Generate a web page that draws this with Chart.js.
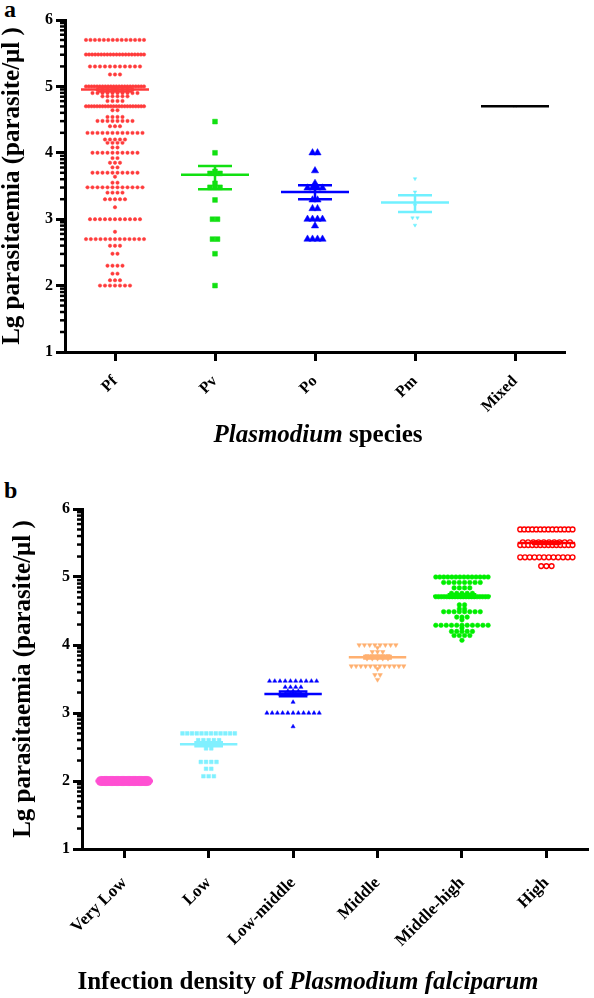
<!DOCTYPE html>
<html>
<head>
<meta charset="utf-8">
<script src="https://cdn.jsdelivr.net/npm/chart.js@4.4.0/dist/chart.umd.min.js"></script>
<style>
  body { margin: 0; background: #fff; width: 594px; height: 998px; position: relative; overflow: hidden;
         font-family: "Liberation Serif", "Times New Roman", serif; }
  canvas { position: absolute; left: 0; }
  #chartA { top: 0; }
  #chartB { top: 460px; }
  .panel { position: absolute; left: 4px; font-weight: bold; font-size: 24px; line-height: 1; }
  .xtitle { position: absolute; font-weight: bold; font-size: 25px; line-height: 1; white-space: nowrap; transform: translateX(-50%); }
</style>
</head>
<body>
<div class="panel" style="top:-3px">a</div>
<div class="panel" style="top:478px">b</div>
<canvas id="chartA" width="594" height="460"></canvas>
<canvas id="chartB" width="594" height="538"></canvas>
<div class="xtitle" style="left:318px; top:421px"><i>Plasmodium</i> species</div>
<div class="xtitle" style="left:308px; top:968px">Infection density of <i>Plasmodium falciparum</i></div>

<script>
/* ============================================
   DATA
============================================ */

// panel a: species
const speciesLabels = ["Pf", "Pv", "Po", "Pm", "Mixed"];

const pfValues = [5.70, 5.48, 5.30, 5.18, 5.00, 4.95, 4.90, 4.85, 4.78, 4.70, 4.64, 4.54, 4.48, 4.40,
                  4.30, 4.20, 4.15, 4.08, 4.00, 3.92, 3.85, 3.78, 3.70, 3.64, 3.55, 3.48, 3.40, 3.30,
                  3.18, 3.00, 2.81, 2.70, 2.60, 2.48, 2.30, 2.18, 2.08, 2.00];
const pfCounts = [14, 20, 11, 3, 22, 8, 10, 6, 4, 22, 2, 4, 8, 3,
                  12, 5, 4, 2, 10, 2, 3, 2, 10, 1, 2, 12, 4, 5,
                  1, 11, 1, 13, 3, 2, 4, 2, 3, 7];

const pvValues = [4.47, 4.00, 3.72, 3.69, 3.54, 3.48, 3.29, 3.00, 2.70, 2.48, 2.00];
const pvCounts = [1, 1, 1, 3, 1, 3, 1, 2, 2, 1, 1];

const poValues = [4.00, 3.73, 3.54, 3.47, 3.29, 3.16, 3.00, 2.90, 2.70];
const poCounts = [2, 1, 1, 4, 2, 2, 4, 1, 4];

const pmValues = [3.61, 3.41, 3.21, 3.02, 2.91];
const pmCounts = [1, 1, 1, 2, 1];

const mixedValues = [4.70];
const mixedCounts = [1];

const speciesMean    = [4.955, 3.67, 3.41, 3.25, 4.70];
const speciesErrHigh = [4.985, 3.80, 3.51, 3.36, 4.70];
const speciesErrLow  = [4.925, 3.45, 3.30, 3.11, 4.70];

// panel b: infection density of P. falciparum
const densityLabels = ["Very Low", "Low", "Low-middle", "Middle", "Middle-high", "High"];

const veryLowValues = [2.00];
const veryLowCounts = [40];

const lowValues = [2.70, 2.60, 2.54, 2.48, 2.28, 2.18, 2.07];
const lowCounts = [12, 5, 4, 2, 4, 2, 3];

const lowMidValues = [3.47, 3.38, 3.32, 3.28, 3.16, 3.00, 2.80];
const lowMidCounts = [10, 4, 3, 6, 1, 11, 1];

const midValues = [4.00, 3.96, 3.90, 3.84, 3.80, 3.69, 3.65, 3.56, 3.49];
const midCounts = [8, 1, 3, 5, 5, 12, 1, 2, 1];

const midHighValues = [5.00, 4.92, 4.84, 4.76, 4.71, 4.59, 4.53, 4.49, 4.41, 4.37, 4.29, 4.25, 4.20, 4.14, 4.07];
const midHighCounts = [14, 8, 4, 5, 20, 2, 2, 8, 3, 1, 11, 1, 5, 4, 1];

const highValues = [5.70, 5.51, 5.47, 5.29, 5.16];
const highCounts = [14, 10, 14, 12, 3];

const densityMean    = [2.00, 2.54, 3.28, 3.82, 4.72, 5.50];
const densityErrHigh = [2.00, 2.57, 3.315, 3.84, 4.745, 5.515];
const densityErrLow  = [2.00, 2.51, 3.245, 3.80, 4.695, 5.485];

/* ============================================
   HELPERS
============================================ */

const serif = '"Liberation Serif", "Times New Roman", serif';

// lay the dots of each row side by side, centred on the category
function swarm(values, counts, cat, step, half) {
    const pts = [];
    values.forEach((v, r) => {
        const n = counts[r];
        let s = step;
        if (n > 1 && (n - 1) * s > 2 * half) s = 2 * half / (n - 1);
        for (let i = 0; i < n; i++) {
            pts.push({ x: cat + (i - (n - 1) / 2) * s, y: v });
        }
    });
    return pts;
}

// mean line + error bar for one group
function summaryLines(cat, mean, hi, lo, color, lineHalf, capHalf, width) {
    const sets = [{
        data: [{ x: cat - lineHalf, y: mean }, { x: cat + lineHalf, y: mean }],
        showLine: true, borderColor: color, borderWidth: width, pointRadius: 0, order: 0
    }];
    if (hi !== lo) {
        sets.push({
            data: [
                { x: cat - capHalf, y: hi }, { x: cat + capHalf, y: hi }, { x: cat, y: null },
                { x: cat - capHalf, y: lo }, { x: cat + capHalf, y: lo }, { x: cat, y: null },
                { x: cat, y: hi }, { x: cat, y: lo }
            ],
            showLine: true, spanGaps: false, borderColor: color, borderWidth: width, pointRadius: 0, order: 0
        });
    }
    return sets;
}

// log-style minor ticks on the y axis
const minorTicks = {
    id: "minorTicks",
    afterDraw(chart) {
        const y = chart.scales.y;
        const ctx = chart.ctx;
        const x0 = chart.chartArea.left;
        ctx.save();
        ctx.strokeStyle = "#000";
        ctx.lineWidth = 2.5;
        for (let n = y.min; n < y.max; n++) {
            for (let k = 2; k <= 9; k++) {
                const p = y.getPixelForValue(n + Math.log10(k));
                ctx.beginPath();
                ctx.moveTo(x0 - 5, p);
                ctx.lineTo(x0, p);
                ctx.stroke();
            }
        }
        ctx.restore();
    }
};

function axes(labels, yWidth, xHeight, tickSize, titlePad, labelPad) {
    return {
        x: {
            type: "linear", min: -0.5, max: labels.length - 0.5,
            afterBuildTicks: s => { s.ticks = labels.map((l, i) => ({ value: i })); },
            afterFit: s => { s.height = xHeight; },
            border: { display: true, width: 3, color: "#000" },
            grid: { drawOnChartArea: false, drawTicks: true, tickLength: 9, tickWidth: 3, tickColor: "#000" },
            ticks: {
                autoSkip: false, minRotation: 45, maxRotation: 45, padding: labelPad, color: "#000",
                font: { family: serif, size: tickSize, weight: "bold" },
                callback: v => labels[v]
            }
        },
        y: {
            min: 1, max: 6,
            afterFit: s => { s.width = yWidth; },
            border: { display: true, width: 3, color: "#000" },
            grid: { drawOnChartArea: false, drawTicks: true, tickLength: 9, tickWidth: 3, tickColor: "#000" },
            ticks: { stepSize: 1, padding: 3, color: "#000", font: { family: serif, size: 16, weight: "bold" } },
            title: {
                display: true, text: "Lg parasitaemia (parasite/\u03bcl )", color: "#000",
                font: { family: serif, size: 25, weight: "bold", lineHeight: 1 },
                padding: { top: titlePad, bottom: 0 }
            }
        }
    };
}

function baseOptions(scales, padding) {
    return {
        responsive: false,
        animation: false,
        devicePixelRatio: 1,
        layout: { padding: padding },
        plugins: { legend: { display: false }, tooltip: { enabled: false } },
        scales: scales
    };
}

/* ============================================
   PANEL A
============================================ */

const speciesData = [
    { values: pfValues, counts: pfCounts, color: "#ff3b3b", style: "circle", r: 1.7, half: 0.29 },
    { values: pvValues, counts: pvCounts, color: "#11e011", style: "rect", r: 3.4, half: 0.29 },
    { values: poValues, counts: poCounts, color: "#0000ff", style: "triangle", r: 4.2, half: 0.29 },
    { values: pmValues, counts: pmCounts, color: "#70f0ff", style: "triangle", r: 2, rot: 180, half: 0.29 },
    { values: mixedValues, counts: mixedCounts, color: "#000000", style: "crossRot", r: 1.5, half: 0.29 }
];

const datasetsA = [];
speciesData.forEach((g, i) => {
    datasetsA.push({
        data: swarm(g.values, g.counts, i, 0.05, g.half),
        pointStyle: g.style, pointRadius: g.r, pointRotation: g.rot || 0,
        pointBackgroundColor: g.color, pointBorderColor: g.color, pointBorderWidth: 0.5,
        showLine: false, order: 1
    });
    datasetsA.push(...summaryLines(i, speciesMean[i], speciesErrHigh[i], speciesErrLow[i],
        g.color, 0.34, 0.17, 2.5));
});

new Chart(document.getElementById("chartA"), {
    type: "scatter",
    data: { datasets: datasetsA },
    options: baseOptions(axes(speciesLabels, 65, 108, 16, 0, 11), { top: 20, right: 29, left: 0, bottom: 0 }),
    plugins: [minorTicks]
});

/* ============================================
   PANEL B
============================================ */

const densityData = [
    { values: veryLowValues, counts: veryLowCounts, color: "#ff50d2", style: "circle", r: 4.6, half: 0.28 },
    { values: lowValues, counts: lowCounts, color: "#80f0ff", style: "rect", r: 2.6, half: 0.31 },
    { values: lowMidValues, counts: lowMidCounts, color: "#0000ff", style: "triangle", r: 2.4, half: 0.31 },
    { values: midValues, counts: midCounts, color: "#ffb070", style: "triangle", r: 2.6, rot: 180, half: 0.31 },
    { values: midHighValues, counts: midHighCounts, color: "#00ee00", style: "circle", r: 2.3, half: 0.31 },
    { values: highValues, counts: highCounts, color: "#ff0000", style: "circle", r: 2.4, half: 0.31, open: true }
];

const datasetsB = [];
densityData.forEach((g, i) => {
    datasetsB.push({
        data: swarm(g.values, g.counts, i, 0.062, g.half),
        pointStyle: g.style, pointRadius: g.r, pointRotation: g.rot || 0,
        pointBackgroundColor: g.open ? "#ffffff" : g.color, pointBorderColor: g.color,
        pointBorderWidth: g.open ? 1.4 : 0.5,
        showLine: false, order: 1
    });
    datasetsB.push(...summaryLines(i, densityMean[i], densityErrHigh[i], densityErrLow[i],
        g.color, 0.34, 0.17, 2.5));
});

new Chart(document.getElementById("chartB"), {
    type: "scatter",
    data: { datasets: datasetsB },
    options: baseOptions(axes(densityLabels, 82, 149, 17, 11, 15), { top: 49, right: 1, left: 0, bottom: 0 }),
    plugins: [minorTicks]
});
</script>
</body>
</html>
